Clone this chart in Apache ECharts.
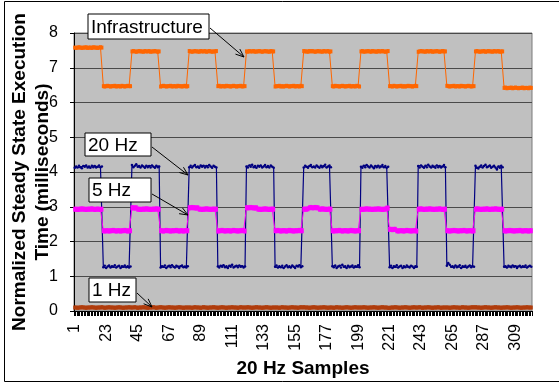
<!DOCTYPE html>
<html>
<head>
<meta charset="utf-8">
<script src="https://cdn.jsdelivr.net/npm/echarts@6/dist/echarts.min.js"></script>
<style>
html, body { margin: 0; padding: 0; background: #fff; }
#chart { width: 559px; height: 383px; }
</style>
</head>
<body>
<div id="chart"></div>
<script>
// x axis: 20 Hz sample numbers 1..320, a label every 22 samples
const samples = Array.from({ length: 320 }, (_, i) => String(i + 1));
const xLabelEvery = 22;
const yMin = 0, yMax = 8, yStep = 1;

// each row = one 20-sample half period
const infraRows = [
  [7.58,7.57,7.58,7.59,7.58,7.57,7.58,7.58,7.59,7.57,7.58,7.58,7.57,7.59,7.58,7.58,7.57,7.58,7.59,7.58],
  [6.47,6.46,6.47,6.48,6.47,6.46,6.47,6.47,6.48,6.46,6.47,6.47,6.46,6.48,6.47,6.46,6.47,6.48,6.47,6.47],
  [7.47,7.48,7.47,7.46,7.47,7.48,7.47,7.47,7.46,7.48,7.47,7.47,7.48,7.46,7.47,7.47,7.48,7.47,7.46,7.47],
  [6.46,6.47,6.48,6.47,6.46,6.47,6.47,6.48,6.46,6.47,6.47,6.46,6.48,6.47,6.47,6.46,6.47,6.48,6.46,6.47],
  [7.48,7.47,7.46,7.47,7.48,7.47,7.47,7.46,7.48,7.47,7.47,7.48,7.46,7.47,7.48,7.47,7.46,7.47,7.47,7.48],
  [6.47,6.48,6.46,6.47,6.47,6.46,6.48,6.47,6.47,6.46,6.47,6.48,6.47,6.46,6.47,6.47,6.48,6.46,6.47,6.47],
  [7.47,7.46,7.48,7.47,7.47,7.48,7.46,7.47,7.47,7.48,7.47,7.46,7.47,7.48,7.47,7.47,7.46,7.48,7.47,7.47],
  [6.46,6.47,6.47,6.48,6.46,6.47,6.46,6.47,6.48,6.47,6.46,6.47,6.47,6.48,6.46,6.47,6.47,6.46,6.48,6.47],
  [7.48,7.47,7.47,7.46,7.48,7.47,7.48,7.47,7.46,7.47,7.48,7.47,7.47,7.46,7.48,7.47,7.47,7.48,7.46,7.47],
  [6.47,6.46,6.48,6.47,6.47,6.46,6.47,6.48,6.47,6.46,6.47,6.47,6.48,6.46,6.47,6.47,6.46,6.48,6.47,6.46],
  [7.47,7.48,7.46,7.47,7.47,7.48,7.47,7.46,7.48,7.47,7.47,7.46,7.48,7.47,7.47,7.48,7.47,7.46,7.47,7.48],
  [6.47,6.47,6.46,6.48,6.47,6.46,6.47,6.47,6.48,6.46,6.47,6.46,6.47,6.48,6.47,6.47,6.46,6.47,6.48,6.47],
  [7.46,7.47,7.48,7.47,7.47,7.46,7.48,7.47,7.47,7.48,7.46,7.47,7.47,7.48,7.47,7.46,7.47,7.48,7.47,7.47],
  [6.48,6.47,6.46,6.47,6.47,6.48,6.46,6.47,6.47,6.46,6.48,6.47,6.47,6.46,6.47,6.48,6.47,6.46,6.47,6.47],
  [7.47,7.48,7.47,7.46,7.47,7.47,7.48,7.46,7.47,7.48,7.47,7.47,7.46,7.48,7.47,7.47,7.48,7.46,7.47,7.47],
  [6.42,6.43,6.41,6.42,6.42,6.43,6.41,6.42,6.43,6.42,6.41,6.42,6.42,6.43,6.41,6.42,6.42,6.41,6.43,6.42]
];

const hz20Rows = [
  [4.12,4.16,4.13,4.18,4.14,4.11,4.17,4.15,4.19,4.13,4.16,4.12,4.18,4.14,4.17,4.13,4.15,4.19,4.14,4.16],
  [1.26,1.30,1.24,1.28,1.31,1.25,1.29,1.27,1.32,1.25,1.28,1.30,1.24,1.29,1.27,1.31,1.26,1.29,1.25,1.28],
  [4.20,4.14,4.18,4.22,4.15,4.17,4.13,4.19,4.16,4.12,4.18,4.14,4.17,4.13,4.19,4.15,4.12,4.18,4.14,4.16],
  [1.25,1.29,1.27,1.31,1.24,1.28,1.30,1.26,1.32,1.27,1.25,1.30,1.28,1.24,1.29,1.31,1.26,1.28,1.25,1.29],
  [4.14,4.18,4.13,4.17,4.20,4.14,4.16,4.12,4.19,4.15,4.18,4.13,4.17,4.14,4.20,4.16,4.12,4.18,4.15,4.13],
  [1.28,1.25,1.30,1.27,1.32,1.26,1.29,1.24,1.30,1.27,1.33,1.25,1.28,1.30,1.26,1.31,1.27,1.29,1.25,1.28],
  [4.16,4.13,4.19,4.15,4.21,4.14,4.17,4.12,4.18,4.15,4.19,4.13,4.16,4.20,4.14,4.17,4.13,4.19,4.15,4.12],
  [1.27,1.31,1.25,1.29,1.26,1.30,1.24,1.28,1.32,1.26,1.29,1.25,1.31,1.27,1.24,1.30,1.28,1.32,1.26,1.29],
  [4.13,4.18,4.15,4.12,4.17,4.20,4.14,4.16,4.13,4.19,4.15,4.12,4.18,4.14,4.17,4.21,4.13,4.16,4.19,4.14],
  [1.29,1.26,1.31,1.24,1.28,1.30,1.25,1.33,1.27,1.29,1.24,1.30,1.26,1.28,1.31,1.25,1.29,1.27,1.32,1.26],
  [4.15,4.12,4.18,4.14,4.20,4.16,4.13,4.19,4.15,4.11,4.17,4.14,4.18,4.13,4.16,4.20,4.14,4.17,4.12,4.15],
  [1.26,1.30,1.24,1.29,1.27,1.32,1.25,1.28,1.30,1.24,1.29,1.26,1.31,1.27,1.25,1.30,1.28,1.24,1.29,1.27],
  [4.17,4.13,4.19,4.15,4.12,4.18,4.14,4.21,4.16,4.13,4.18,4.15,4.12,4.19,4.14,4.17,4.13,4.16,4.20,4.14],
  [1.30,1.38,1.33,1.27,1.29,1.25,1.31,1.26,1.28,1.32,1.24,1.29,1.27,1.30,1.25,1.28,1.31,1.26,1.29,1.27],
  [4.18,4.12,4.10,4.15,4.19,4.13,4.17,4.21,4.14,4.16,4.19,4.12,4.15,4.18,4.13,4.07,4.16,4.12,4.18,4.14],
  [1.27,1.29,1.25,1.30,1.28,1.26,1.31,1.27,1.29,1.24,1.28,1.30,1.26,1.29,1.27,1.31,1.25,1.28,1.30,1.27]
];

const hz5Rows = [
  [2.93,2.93,2.92,2.93,2.93,2.94,2.93,2.93,2.92,2.93,2.93,2.93,2.94,2.93,2.92,2.93,2.93,2.93,2.92,2.93],
  [2.31,2.30,2.31,2.31,2.30,2.31,2.31,2.32,2.31,2.30,2.31,2.31,2.30,2.31,2.31,2.32,2.31,2.30,2.31,2.31],
  [2.97,2.97,2.96,2.97,2.93,2.93,2.92,2.93,2.93,2.93,2.94,2.93,2.93,2.92,2.93,2.93,2.93,2.94,2.93,2.93],
  [2.31,2.31,2.30,2.31,2.32,2.31,2.31,2.30,2.31,2.31,2.31,2.32,2.31,2.30,2.31,2.31,2.30,2.31,2.31,2.31],
  [2.97,2.97,2.98,2.97,2.97,2.96,2.97,2.93,2.93,2.92,2.93,2.93,2.94,2.93,2.93,2.92,2.93,2.93,2.93,2.93],
  [2.30,2.31,2.31,2.32,2.31,2.30,2.31,2.31,2.31,2.30,2.31,2.32,2.31,2.31,2.30,2.31,2.31,2.32,2.31,2.30],
  [2.97,2.97,2.97,2.98,2.97,2.97,2.96,2.97,2.93,2.93,2.92,2.93,2.93,2.94,2.93,2.93,2.92,2.93,2.93,2.93],
  [2.31,2.31,2.32,2.31,2.30,2.31,2.31,2.31,2.30,2.31,2.32,2.31,2.31,2.30,2.31,2.31,2.31,2.32,2.31,2.31],
  [2.93,2.93,2.93,2.94,2.97,2.98,2.97,2.97,2.98,2.97,2.97,2.93,2.93,2.94,2.93,2.93,2.92,2.93,2.93,2.93],
  [2.31,2.30,2.31,2.31,2.31,2.32,2.31,2.30,2.31,2.31,2.31,2.30,2.31,2.32,2.31,2.31,2.30,2.31,2.31,2.31],
  [2.93,2.92,2.93,2.93,2.94,2.93,2.93,2.93,2.92,2.93,2.93,2.93,2.94,2.93,2.93,2.92,2.93,2.93,2.96,2.96],
  [2.35,2.35,2.34,2.35,2.35,2.31,2.30,2.31,2.31,2.31,2.30,2.31,2.32,2.31,2.31,2.30,2.31,2.31,2.31,2.30],
  [2.93,2.93,2.94,2.93,2.92,2.93,2.93,2.93,2.94,2.93,2.93,2.92,2.93,2.93,2.93,2.94,2.93,2.92,2.93,2.93],
  [2.31,2.31,2.30,2.31,2.31,2.32,2.31,2.31,2.30,2.31,2.31,2.31,2.32,2.31,2.30,2.31,2.31,2.31,2.30,2.31],
  [2.93,2.94,2.93,2.93,2.92,2.93,2.93,2.93,2.94,2.93,2.92,2.93,2.93,2.93,2.94,2.93,2.93,2.92,2.93,2.93],
  [2.31,2.30,2.31,2.31,2.32,2.31,2.31,2.30,2.31,2.31,2.31,2.32,2.31,2.30,2.31,2.31,2.31,2.30,2.31,2.31]
];

const hz1Rows = [
  [0.10,0.10,0.09,0.10,0.10,0.11,0.10,0.10,0.09,0.10,0.10,0.10,0.11,0.10,0.10,0.09,0.10,0.10,0.10,0.11],
  [0.10,0.09,0.10,0.10,0.11,0.10,0.10,0.10,0.09,0.10,0.10,0.11,0.10,0.10,0.09,0.10,0.10,0.10,0.11,0.10],
  [0.10,0.10,0.11,0.10,0.09,0.10,0.10,0.10,0.11,0.10,0.10,0.09,0.10,0.10,0.10,0.11,0.10,0.09,0.10,0.10],
  [0.11,0.10,0.10,0.09,0.10,0.10,0.11,0.10,0.10,0.10,0.09,0.10,0.10,0.11,0.10,0.10,0.09,0.10,0.10,0.10],
  [0.10,0.10,0.09,0.10,0.11,0.10,0.10,0.10,0.09,0.10,0.11,0.10,0.10,0.09,0.10,0.10,0.10,0.11,0.10,0.10],
  [0.09,0.10,0.10,0.11,0.10,0.10,0.09,0.10,0.10,0.10,0.11,0.10,0.10,0.10,0.09,0.10,0.11,0.10,0.10,0.10],
  [0.10,0.11,0.10,0.10,0.09,0.10,0.10,0.11,0.10,0.10,0.10,0.09,0.10,0.10,0.11,0.10,0.10,0.09,0.10,0.10],
  [0.10,0.10,0.10,0.09,0.10,0.11,0.10,0.10,0.10,0.09,0.10,0.10,0.11,0.10,0.10,0.10,0.09,0.10,0.11,0.10],
  [0.11,0.10,0.10,0.10,0.09,0.10,0.10,0.11,0.10,0.10,0.09,0.10,0.10,0.10,0.11,0.10,0.10,0.09,0.10,0.10],
  [0.10,0.09,0.10,0.11,0.10,0.10,0.10,0.09,0.10,0.10,0.11,0.10,0.10,0.09,0.10,0.10,0.11,0.10,0.10,0.10],
  [0.10,0.10,0.11,0.10,0.10,0.09,0.10,0.10,0.10,0.11,0.10,0.10,0.09,0.10,0.10,0.11,0.10,0.10,0.10,0.09],
  [0.09,0.10,0.10,0.10,0.11,0.10,0.10,0.09,0.10,0.10,0.10,0.11,0.10,0.10,0.09,0.10,0.10,0.11,0.10,0.10],
  [0.10,0.11,0.10,0.09,0.10,0.10,0.10,0.11,0.10,0.10,0.09,0.10,0.10,0.10,0.11,0.10,0.09,0.10,0.10,0.10],
  [0.10,0.10,0.09,0.10,0.10,0.11,0.10,0.10,0.10,0.09,0.10,0.11,0.10,0.10,0.10,0.09,0.10,0.10,0.11,0.10],
  [0.11,0.10,0.10,0.10,0.09,0.10,0.10,0.11,0.10,0.10,0.10,0.09,0.10,0.10,0.11,0.10,0.10,0.10,0.09,0.10],
  [0.10,0.10,0.11,0.10,0.10,0.09,0.10,0.10,0.10,0.11,0.10,0.10,0.09,0.10,0.10,0.10,0.11,0.10,0.10,0.10]
];

const infra = infraRows.flat();
const hz20 = hz20Rows.flat();
const hz5 = hz5Rows.flat();
const hz1 = hz1Rows.flat();

const FONT = '"Liberation Sans", Arial, sans-serif';

// callout box + arrow (annotation only)
function callout(text, bx, by, bw, bh, ax1, ay1, ax2, ay2) {
  const a = Math.atan2(ay2 - ay1, ax2 - ax1), L = 9, w = 0.38;
  return [
    { type: 'line', z: 100, shape: { x1: ax1, y1: ay1, x2: ax2, y2: ay2 }, style: { stroke: '#000', lineWidth: 1 } },
    { type: 'polyline', z: 100, shape: { points: [
        [ax2 - L * Math.cos(a - w), ay2 - L * Math.sin(a - w)], [ax2, ay2],
        [ax2 - L * Math.cos(a + w), ay2 - L * Math.sin(a + w)]] },
      style: { stroke: '#000', fill: null, lineWidth: 1 } },
    { type: 'rect', z: 101, shape: { x: bx, y: by, width: bw, height: bh }, style: { fill: '#fff', stroke: '#000', lineWidth: 1 } },
    { type: 'text', z: 102, x: bx + 3, y: by + bh / 2 + 1,
      style: { text: text, font: '19px ' + FONT, fill: '#000', textVerticalAlign: 'middle', verticalAlign: 'middle' } }
  ];
}

const chart = echarts.init(document.getElementById('chart'));
chart.setOption({
  animation: false,
  backgroundColor: '#fff',
  grid: {
    left: 73, right: 27, top: 33, bottom: 72,
    show: true, backgroundColor: '#c0c0c0', borderColor: '#7a7a7a', borderWidth: 1
  },
  xAxis: {
    type: 'category',
    data: samples,
    boundaryGap: true,
    name: '20 Hz Samples',
    nameLocation: 'middle',
    nameGap: 48,
    nameMoveOverlap: false,
    nameTextStyle: { fontFamily: FONT, fontWeight: 'bold', fontSize: 19, color: '#000' },
    axisLine: { lineStyle: { color: '#000', width: 1 } },
    axisTick: { show: true, interval: 0, length: 5, lineStyle: { color: '#000' } },
    axisLabel: { interval: xLabelEvery - 1, rotate: 90, margin: 13, fontFamily: FONT, fontSize: 16, color: '#000' },
    splitLine: { show: false }
  },
  yAxis: {
    type: 'value',
    min: yMin, max: yMax, interval: yStep,
    name: 'Normalized Steady State Execution\nTime (milliseconds)',
    nameLocation: 'middle',
    nameRotate: 90,
    nameGap: 20,
    nameMoveOverlap: false,
    nameTextStyle: { fontFamily: FONT, fontWeight: 'bold', fontSize: 19, lineHeight: 23, color: '#000' },
    axisLine: { show: true, lineStyle: { color: '#000', width: 1 } },
    axisTick: { show: true, length: 4, lineStyle: { color: '#000' } },
    axisLabel: { margin: 16, fontFamily: FONT, fontSize: 16, color: '#000' },
    splitLine: { show: true, lineStyle: { color: '#4a4a4a', width: 1 } }
  },
  series: [
    { name: '1 Hz', type: 'line', data: hz1, showAllSymbol: true, symbol: 'rect', symbolSize: [3, 4],
      itemStyle: { color: '#b03c0c' }, lineStyle: { color: '#b03c0c', width: 2 } },
    { name: '20 Hz', type: 'line', data: hz20, showAllSymbol: true, symbol: 'circle', symbolSize: 2.5,
      itemStyle: { color: '#000080' }, lineStyle: { color: '#000080', width: 1.2 } },
    { name: '5 Hz', type: 'line', data: hz5, showAllSymbol: true, symbol: 'rect', symbolSize: [3, 5],
      itemStyle: { color: '#ff00ff' }, lineStyle: { color: '#ff00ff', width: 1 } },
    { name: 'Infrastructure', type: 'line', data: infra, showAllSymbol: true, symbol: 'rect', symbolSize: [3, 4],
      itemStyle: { color: '#ff6600' }, lineStyle: { color: '#ff6600', width: 1 } }
  ],
  graphic: [
    { type: 'rect', z: -1, shape: { x: 4.5, y: 1.5, width: 600, height: 380 }, style: { fill: null, stroke: '#000', lineWidth: 1 } }
  ].concat(
    callout('Infrastructure', 88, 14, 121, 25, 210, 28, 244, 57),
    callout('20 Hz', 85, 133, 66, 23, 152, 147, 188, 175),
    callout('5 Hz', 89, 178, 62, 24, 152, 194, 188, 215),
    callout('1 Hz', 89, 278, 47, 24, 137, 293, 152, 307)
  )
});
</script>
</body>
</html>
